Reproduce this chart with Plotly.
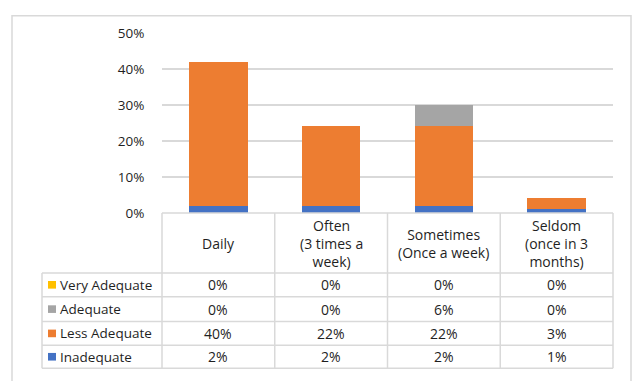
import plotly.graph_objects as go

# Frequency categories (header row of the data table)
categories = ["Daily", "Often<br>(3 times a<br>week)", "Sometimes<br>(Once a week)",
              "Seldom<br>(once in 3<br>months)"]

# Series values in percent, stacked bottom to top
inadequate = [2, 2, 2, 1]
less_adequate = [40, 22, 22, 3]
adequate = [0, 0, 6, 0]
very_adequate = [0, 0, 0, 0]

series_names = ["Inadequate", "Less Adequate", "Adequate", "Very Adequate"]
series_colors = ["#4472C4", "#ED7D31", "#A5A5A5", "#FFC000"]
series_values = [inadequate, less_adequate, adequate, very_adequate]

y_ticks = [0, 10, 20, 30, 40, 50]

W, H = 632, 381
FONT = "Open Sans"
TXT = "#1f1f1f"
GRID = "#D9D9D9"
TABLE_SIZE = 14
KEY_SIZE = 13.5


def px(x):
    return x / W


def py(y):
    return 1 - y / H


x_idx = list(range(len(categories)))

fig = go.Figure()
for name, color, vals in zip(series_names, series_colors, series_values):
    fig.add_trace(go.Bar(
        x=x_idx, y=[v / 100 for v in vals], name=name,
        marker=dict(color=color, line=dict(width=0)),
        width=0.52, showlegend=False,
    ))

plot_left, plot_right = 162, 613
plot_top, plot_bottom = 25, 214

fig.update_layout(
    width=W, height=H,
    margin=dict(l=0, r=0, t=0, b=0),
    paper_bgcolor="white", plot_bgcolor="white",
    barmode="stack",
    font=dict(family=FONT, size=13, color=TXT),
    xaxis=dict(domain=[px(plot_left), px(plot_right)], range=[-0.5, 3.5],
               showticklabels=False, showgrid=False, zeroline=False,
               showline=False, fixedrange=True),
    yaxis=dict(domain=[py(plot_bottom), py(plot_top)], range=[0, 0.5],
               tickvals=[t / 100 for t in y_ticks],
               ticktext=[f"{t}%" for t in y_ticks],
               tickfont=dict(family=FONT, size=13.5, color=TXT),
               ticks="outside", ticklen=14, tickcolor="rgba(0,0,0,0)",
               showgrid=True, gridcolor=GRID, gridwidth=1.5,
               zeroline=False, showline=False, fixedrange=True),
)

shapes = []
# outer chart frame
shapes.append(dict(type="rect", xref="paper", yref="paper",
                   x0=px(12), x1=px(631), y0=py(395), y1=py(7),
                   line=dict(color="#D9D9D9", width=1.5), fillcolor="rgba(0,0,0,0)"))

# data table grid
col_edges = [plot_left + (plot_right - plot_left) * i / len(categories)
             for i in range(len(categories) + 1)]
legend_left = 42
row_edges = [277, 302, 328, 353, 377]
table_right = col_edges[-1]


def line(x0, y0, x1, y1, color=GRID):
    shapes.append(dict(type="line", xref="paper", yref="paper",
                       x0=px(x0), x1=px(x1), y0=py(y0), y1=py(y1),
                       line=dict(color=color, width=1.5), layer="above"))


# horizontal rules
line(plot_left, plot_bottom, table_right, plot_bottom)
for r in row_edges:
    line(legend_left, r, table_right, r)
# vertical rules
for c in col_edges:
    line(c, plot_bottom, c, row_edges[-1])
line(legend_left, row_edges[0], legend_left, row_edges[-1])

annotations = []
# header cells
for i, cat in enumerate(categories):
    annotations.append(dict(
        x=i, xref="x", y=py((plot_bottom + row_edges[0]) / 2 + 0.5), yref="paper",
        text=cat, showarrow=False, xanchor="center", yanchor="middle",
        align="center", font=dict(family=FONT, size=TABLE_SIZE, color=TXT),
    ))

# body rows, top row is the last stacked series
for row, k in enumerate(reversed(range(len(series_names)))):
    y_mid = py((row_edges[row] + row_edges[row + 1]) / 2)
    # legend key
    shapes.append(dict(type="rect", xref="paper", yref="paper",
                       x0=px(48), x1=px(56),
                       y0=y_mid - 4 / H, y1=y_mid + 4 / H,
                       line=dict(width=0), fillcolor=series_colors[k]))
    annotations.append(dict(
        x=px(58), xref="paper", y=y_mid, yref="paper",
        text=series_names[k], showarrow=False, xanchor="left", yanchor="middle",
        font=dict(family=FONT, size=KEY_SIZE, color=TXT),
    ))
    for i, v in enumerate(series_values[k]):
        annotations.append(dict(
            x=i, xref="x", y=y_mid, yref="paper",
            text=f"{v}%", showarrow=False, xanchor="center", yanchor="middle",
            font=dict(family=FONT, size=TABLE_SIZE, color=TXT),
        ))

fig.update_layout(shapes=shapes, annotations=annotations)
fig.write_html("out.html")
